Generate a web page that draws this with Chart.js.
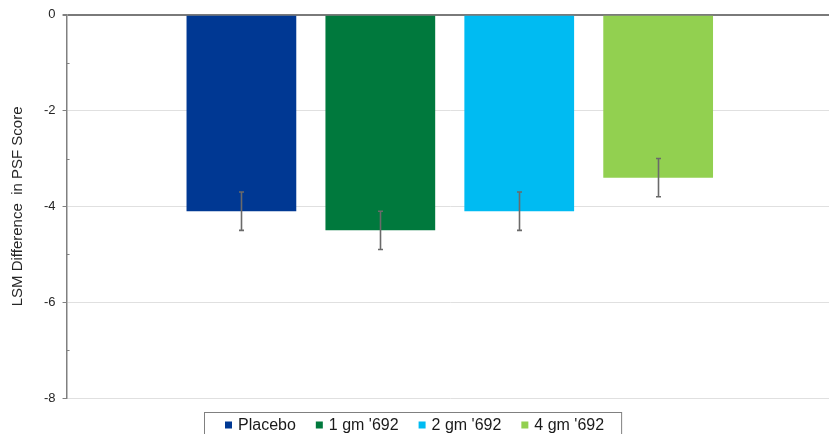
<!DOCTYPE html>
<html>
<head>
<meta charset="utf-8">
<script src="https://cdn.jsdelivr.net/npm/chart.js@4"></script>
<style>
  html, body { margin: 0; padding: 0; background: #fff; overflow: hidden; }
  #wrap { position: relative; width: 837px; height: 446px; }
</style>
</head>
<body>
<div id="wrap"><canvas id="grafico"></canvas></div>
<script>
// dados do grafico
const categorias = ['Placebo', "1 gm '692", "2 gm '692", "4 gm '692"];
const valoresLSM = [-4.1, -4.5, -4.1, -3.4];
const erros = [0.4, 0.4, 0.4, 0.4];
const yTicks = [0, -2, -4, -6, -8];
const yMinorTicks = [-1, -3, -5, -7];
const cores = ['#003893', '#00793D', '#00BBF2', '#92D050'];

const FONTE = '"Liberation Sans", Arial, sans-serif';

// barras de erro
const errorBars = {
  id: 'errorBars',
  afterDatasetsDraw(chart) {
    const ctx = chart.ctx;
    const y = chart.scales.y;
    ctx.save();
    ctx.strokeStyle = '#6a6a6a';
    ctx.lineWidth = 1.6;
    chart.data.datasets.forEach(function(ds, i) {
      const bar = chart.getDatasetMeta(i).data[0];
      if (!bar) return;
      const v = ds.data[0];
      const y1 = y.getPixelForValue(v + erros[i]);
      const y2 = y.getPixelForValue(v - erros[i]);
      const x = Math.round(bar.x) + 0.5;
      ctx.beginPath();
      ctx.moveTo(x, y1); ctx.lineTo(x, y2);
      ctx.moveTo(x - 2.5, y1); ctx.lineTo(x + 2.5, y1);
      ctx.moveTo(x - 2.5, y2); ctx.lineTo(x + 2.5, y2);
      ctx.stroke();
    });
    ctx.restore();
  }
};

// tracinhos menores do eixo y
const minorTicks = {
  id: 'minorTicks',
  afterDraw(chart) {
    const ctx = chart.ctx;
    const y = chart.scales.y;
    const x0 = chart.chartArea.left;
    ctx.save();
    ctx.strokeStyle = '#808080';
    ctx.lineWidth = 1;
    yMinorTicks.forEach(function(t) {
      const py = Math.round(y.getPixelForValue(t)) + 0.5;
      ctx.beginPath();
      ctx.moveTo(x0, py); ctx.lineTo(x0 + 3, py);
      ctx.stroke();
    });
    ctx.restore();
  }
};

// legenda com borda
const legendaBox = {
  id: 'legendaBox',
  afterDraw(chart) {
    const ctx = chart.ctx;
    ctx.save();
    ctx.font = '16px ' + FONTE;
    const box = 7, gapTexto = 6, gapItem = 20;
    const larguras = chart.data.datasets.map(function(ds) { return box + gapTexto + ctx.measureText(ds.label).width; });
    const total = larguras.reduce(function(a, b) { return a + b; }, 0) + gapItem * (larguras.length - 1);
    let x = 225;
    const yMid = 425;
    ctx.strokeStyle = '#808080';
    ctx.lineWidth = 1;
    ctx.strokeRect(204.5, 412.5, total + 38, 30);
    ctx.textBaseline = 'middle';
    chart.data.datasets.forEach(function(ds, i) {
      ctx.fillStyle = ds.backgroundColor;
      ctx.fillRect(x, yMid - 3.5, box, box);
      ctx.fillStyle = '#1a1a1a';
      ctx.fillText(ds.label, x + box + gapTexto, yMid + 1);
      x += larguras[i] + gapItem;
    });
    ctx.restore();
  }
};

new Chart(document.getElementById('grafico'), {
  type: 'bar',
  data: {
    labels: [''],
    datasets: categorias.map(function(c, i) {
      return { label: c, data: [valoresLSM[i]], backgroundColor: cores[i], borderWidth: 0 };
    })
  },
  options: {
    responsive: true,
    maintainAspectRatio: false,
    animation: false,
    datasets: { bar: { categoryPercentage: 0.725, barPercentage: 0.79 } },
    layout: { padding: { top: 7, left: 9, right: 4, bottom: 48 } },
    plugins: {
      legend: { display: false },
      tooltip: { enabled: false }
    },
    scales: {
      x: { display: false },
      y: {
        min: -8,
        max: 0,
        afterBuildTicks: function(scale) {
          scale.ticks = yTicks.map(function(v) { return { value: v }; });
        },
        ticks: {
          color: '#262626',
          font: { family: FONTE, size: 13 },
          padding: 7,
          callback: function(v) { return v; }
        },
        grid: {
          color: function(c) { return c.tick && c.tick.value === 0 ? '#7a7a7a' : '#e0e0e0'; },
          lineWidth: function(c) { return c.tick && c.tick.value === 0 ? 2 : 1; },
          tickColor: '#808080',
          tickLength: 4
        },
        border: { color: '#808080', width: 1.5 },
        title: {
          display: true,
          text: 'LSM Difference  in PSF Score',
          color: '#262626',
          font: { family: FONTE, size: 15 },
          padding: { top: 0, bottom: 10 }
        }
      }
    }
  },
  plugins: [errorBars, minorTicks, legendaBox]
});
</script>
</body>
</html>
